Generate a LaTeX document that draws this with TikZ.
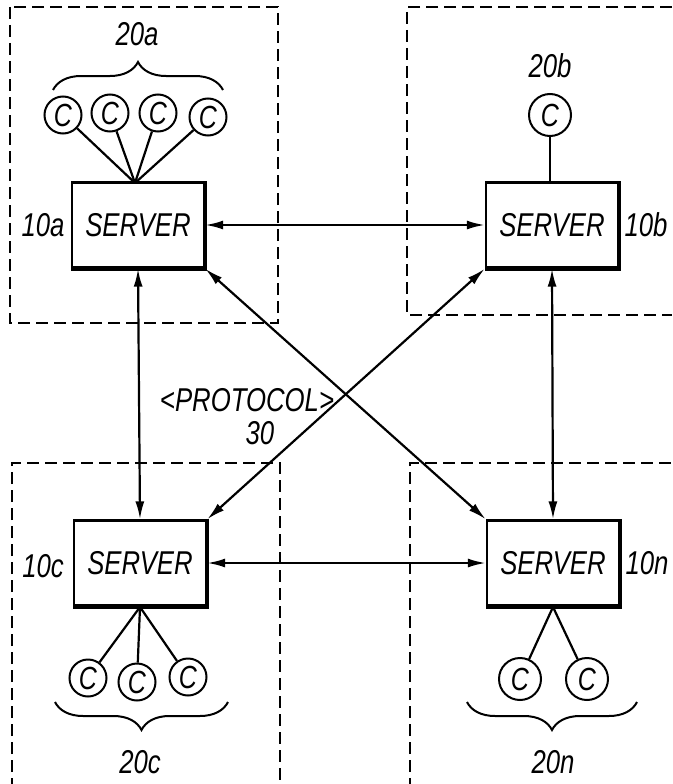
\documentclass[tikz,border=0pt]{standalone}
\usepackage{fontspec}
\setmainfont{Liberation Sans}[FakeStretch=0.78]
\usetikzlibrary{arrows.meta,decorations.pathreplacing}
\tikzset{
  lbl/.style={font=\itshape\fontsize{33}{36}\selectfont, inner sep=0pt},
  server/.style={draw, line width=2.4pt, minimum width=132pt, minimum height=85pt, inner sep=0pt, font=\itshape\fontsize{33}{36}\selectfont},
  client/.style={draw, circle, line width=2pt, minimum size=37pt, inner sep=0pt, font=\itshape\fontsize{32}{34}\selectfont},
  bigclient/.style={client, minimum size=42pt},
  region/.style={line width=1.6pt, dash pattern=on 12pt off 6pt},
  link/.style={line width=2.2pt},
  proto/.style={line width=2.2pt, {Latex[length=18pt,width=9pt]}-{Latex[length=18pt,width=9pt]}},
  grp/.style={line width=2pt, decorate, decoration={brace, amplitude=28pt, aspect=0.5}},
  shadow/.style={line width=4.5pt}
}
\begin{document}
\begin{tikzpicture}[x=1pt,y=-1pt]
\useasboundingbox (0,0) rectangle (672,784);
% dashed regions
\draw[region] (10,7) rectangle (278,323);
\draw[region] (672,7) -- (407,7) -- (407,315) -- (672,315);
\draw[region] (12,790) -- (12,463) -- (280,463) -- (280,790);
\draw[region] (410,790) -- (410,463) -- (672,463);
% servers
\node[server] (sa) at (138,225) {SERVER};
\node[server] (sb) at (552,225) {SERVER};
\node[server] (sc) at (140,563) {SERVER};
\node[server] (sn) at (553,563) {SERVER};
\foreach \s in {sa,sb,sc,sn}{
  \draw[shadow] (\s.north east) -- (\s.south east) -- (\s.south west);
}
% server labels
\node[lbl] (la) at (43,225) {10a};
\node[lbl] (lb) at (646,225) {10b};
\node[lbl] (lc) at (43,566) {10c};
\node[lbl] (ln) at (647,563) {10n};
% clients 20a
\node[client] (a1) at (63,115) {C};
\node[client] (a2) at (110,113) {C};
\node[client] (a3) at (158,113) {C};
\node[client] (a4) at (208,117) {C};
\coordinate (sat) at (135,183);
\foreach \c in {a1,a2,a3,a4}{ \draw[link] (\c) -- (sat); }
\draw[grp] (53,90) -- (223,90);
\node[lbl] (ga) at (137,34) {20a};
% client 20b
\node[bigclient] (b1) at (550,115) {C};
\draw[link] (b1) -- (b1 |- sb.north);
\node[lbl] (gb) at (550,66) {20b};
% clients 20c
\node[client] (c1) at (88,678) {C};
\node[client] (c2) at (137,682) {C};
\node[client] (c3) at (188,677) {C};
\coordinate (scb) at (140,607);
\foreach \c in {c1,c2,c3}{ \draw[link] (\c) -- (scb); }
\draw[grp] (228,702) -- (55,702);
\node[lbl] (gc) at (140,762) {20c};
% clients 20n
\node[bigclient] (n1) at (520,679) {C};
\node[bigclient] (n2) at (587,679) {C};
\coordinate (snb) at (553,607);
\foreach \c in {n1,n2}{ \draw[link] (\c) -- (snb); }
\draw[grp] (637,702) -- (467,702);
\node[lbl] (gn) at (553,762) {20n};
% protocol links
\draw[proto] (sa.east) -- (sb.west);
\draw[proto] (sc.east) -- (sn.west);
\draw[proto] (sa.south) -- (sc.north);
\draw[proto] (sb.south) -- (sn.north);
\draw[proto] (sa.south east) -- (sn.north west);
\draw[proto] (sb.south west) -- (sc.north east);
\node[lbl] (pl) at (247,400) {<PROTOCOL>};
\node[lbl] (pn) at (260,433) {30};
\end{tikzpicture}
\end{document}
